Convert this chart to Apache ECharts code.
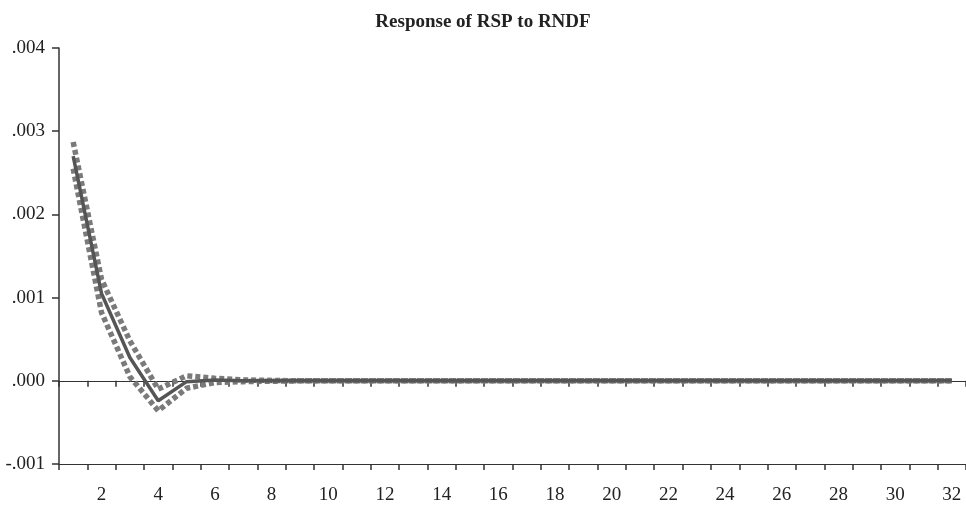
<!DOCTYPE html>
<html>
<head>
<meta charset="utf-8">
<script src="https://cdn.jsdelivr.net/npm/echarts@6/dist/echarts.min.js"></script>
<style>html,body{margin:0;padding:0;background:#fff}#c{width:966px;height:507px}</style>
</head>
<body>
<div id="c"></div>
<script>
var titleText = 'Response of RSP to RNDF';
var periods = [];
for (var p = 1; p <= 32; p++) periods.push(String(p));
var response = [0.00270, 0.00105, 0.00028, -0.00024, -0.00001, 0.00001, 0.00000, 0, 0, 0, 0, 0, 0, 0, 0, 0, 0, 0, 0, 0, 0, 0, 0, 0, 0, 0, 0, 0, 0, 0, 0, 0];
var upperBand = [0.00287, 0.00122, 0.00048, -0.00010, 0.00006, 0.00003, 0.00001, 0.000005, 0, 0, 0, 0, 0, 0, 0, 0, 0, 0, 0, 0, 0, 0, 0, 0, 0, 0, 0, 0, 0, 0, 0, 0];
var lowerBand = [0.00255, 0.00082, 0.00005, -0.00036, -0.00009, -0.00002, -0.00001, -0.000005, 0, 0, 0, 0, 0, 0, 0, 0, 0, 0, 0, 0, 0, 0, 0, 0, 0, 0, 0, 0, 0, 0, 0, 0];
var yTicks = {min: -0.001, max: 0.004, interval: 0.001};

var font = 'Liberation Serif';
var axisColor = '#333';
var chart = echarts.init(document.getElementById('c'), null, {renderer: 'canvas'});
function fmt(v) {
  var s = v.toFixed(3);
  return s.replace('0.', '.');
}
var baseX = {
  type: 'category',
  data: periods,
  boundaryGap: true,
  axisTick: {show: true, interval: 0, length: 6, inside: false, lineStyle: {color: axisColor, width: 1.5}},
  splitLine: {show: false}
};
chart.setOption({
  animation: false,
  title: {
    text: titleText, left: 'center', top: 8,
    textStyle: {fontFamily: font, fontWeight: 'bold', fontSize: 19, color: '#222'}
  },
  grid: {left: 59, top: 48, width: 909, bottom: 43},
  xAxis: [
    Object.assign({}, baseX, {
      position: 'bottom',
      axisLine: {show: true, onZero: false, lineStyle: {color: axisColor, width: 1.2}},
      axisLabel: {
        show: true, margin: 22,
        interval: function (i) { return i % 2 === 1; },
        fontFamily: font, fontSize: 19, color: '#222'
      }
    }),
    Object.assign({}, baseX, {
      position: 'bottom',
      axisLine: {show: true, onZero: true, lineStyle: {color: axisColor, width: 1.2}},
      axisLabel: {show: false}
    })
  ],
  yAxis: {
    type: 'value', min: yTicks.min, max: yTicks.max, interval: yTicks.interval,
    axisLine: {show: true, lineStyle: {color: axisColor, width: 1.5}},
    axisTick: {show: true, length: 7, lineStyle: {color: axisColor, width: 1.5}},
    splitLine: {show: false},
    axisLabel: {formatter: fmt, margin: 14, fontFamily: font, fontSize: 19, color: '#222'}
  },
  series: [
    {
      type: 'line', xAxisIndex: 1, data: upperBand, symbol: 'none', z: 3,
      lineStyle: {color: '#7a7a7a', width: 5.5, type: [5, 3], cap: 'butt'}
    },
    {
      type: 'line', xAxisIndex: 1, data: lowerBand, symbol: 'none', z: 3,
      lineStyle: {color: '#7a7a7a', width: 5.5, type: [5, 3], cap: 'butt'}
    },
    {
      type: 'line', xAxisIndex: 1, data: response, symbol: 'none', z: 4,
      lineStyle: {color: '#555555', width: 3.5}
    }
  ]
});
</script>
</body>
</html>
